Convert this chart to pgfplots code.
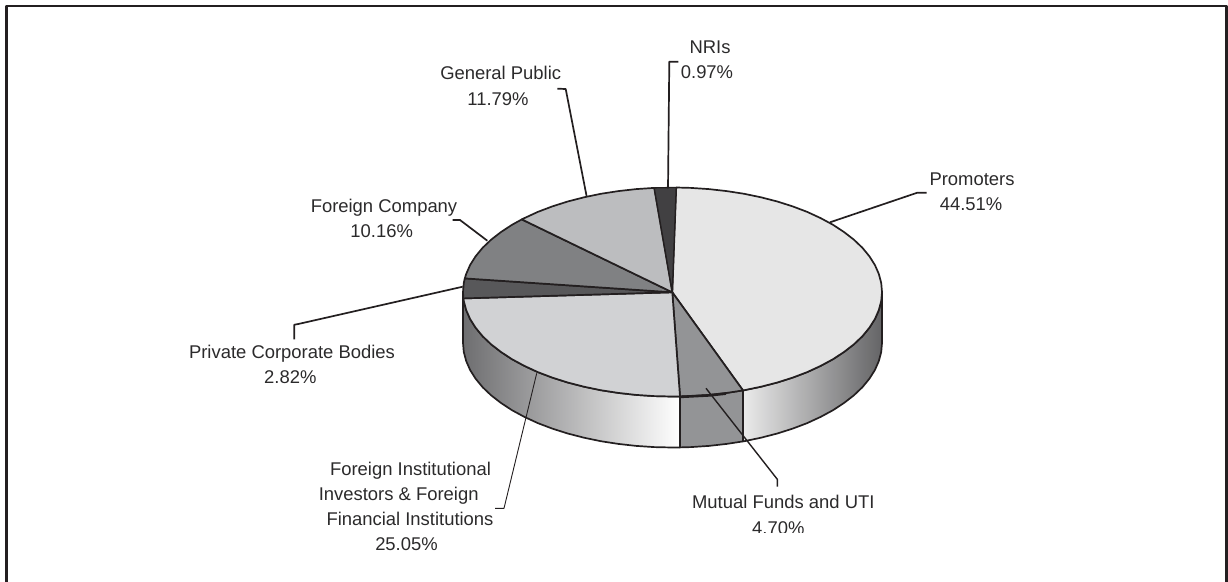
\documentclass[border=0pt]{standalone}
\usepackage{pgfplots}
\pgfplotsset{compat=1.18}
\usepackage{fontspec}
\setmainfont{Liberation Sans}
\definecolor{ink}{HTML}{231F20}
\definecolor{txt}{HTML}{2B2A2B}
\definecolor{cProm}{HTML}{E6E6E6}
\definecolor{cMut}{HTML}{939496}
\definecolor{cFII}{HTML}{D1D2D4}
\definecolor{cPriv}{HTML}{58585A}
\definecolor{cFor}{HTML}{808183}
\definecolor{cGen}{HTML}{BCBDBF}
\definecolor{cNRI}{HTML}{414042}
\definecolor{sideL}{HTML}{6E6E70}
\definecolor{sideR}{HTML}{646466}
\newcommand\lab[3]{\node[anchor=base,text=txt,inner sep=0pt] at (axis cs:#1,#2){#3};}
\begin{document}
\begin{tikzpicture}
\useasboundingbox (0,0) rectangle (1228bp,582bp);
\begin{axis}[
  at={(0,0)},anchor=south west,
  scale only axis,width=1228bp,height=582bp,
  xmin=0,xmax=1228,ymin=0,ymax=582,y dir=reverse,
  axis lines=none,clip=false,
  every axis plot/.append style={no markers,line join=round,line cap=butt},
  font=\fontsize{18.5}{24}\selectfont,
]
% frame (open at the bottom)
\addplot[draw=ink,line width=2.6bp] coordinates {(6.3,582)(6.3,6)(1226.5,6)(1226.5,582)};

% side walls
\addplot[draw=ink,line width=1.7bp,left color=white!92!black,right color=sideR] coordinates {
(882,292)(881.2,301.1)(878.8,310.1)(874.9,319)(869.4,327.7)(862.4,336.2)(853.9,344.3)(844.1,351.9)(833,359.2)(820.6,365.9)(807.2,372.1)(792.7,377.6)(777.3,382.5)(761,386.7)(744.2,390.2)(743,390.4)
(743,441.4)(744.2,441.2)(761,437.7)(777.3,433.5)(792.7,428.6)(807.2,423.1)(820.6,416.9)(833,410.2)(844.1,402.9)(853.9,395.3)(862.4,387.2)(869.4,378.7)(874.9,370)(878.8,361.1)(881.2,352.1)(882,343)(882,292)};
\addplot[draw=ink,line width=1.7bp,fill=cMut] coordinates {
(743,390.4)(726.7,392.9)(708.9,394.9)(690.8,396.1)(680,396.4)(680,447.4)(690.8,447.1)(708.9,445.9)(726.7,443.9)(743,441.4)(743,390.4)};
\addplot[draw=ink,line width=1.7bp,left color=sideL,right color=white] coordinates {
(680,396.4)(672.5,396.5)(654.2,396.1)(636.1,394.9)(618.3,392.9)(600.8,390.2)(584,386.7)(567.7,382.5)(552.3,377.6)(537.8,372.1)(524.4,365.9)(512,359.2)(500.9,351.9)(491.1,344.3)(482.6,336.2)(475.6,327.7)(470.1,319)(466.2,310.1)(463.8,301.1)(463,292)
(463,343)(463.8,352.1)(466.2,361.1)(470.1,370)(475.6,378.7)(482.6,387.2)(491.1,395.3)(500.9,402.9)(512,410.2)(524.4,416.9)(537.8,423.1)(552.3,428.6)(567.7,433.5)(584,437.7)(600.8,441.2)(618.3,443.9)(636.1,445.9)(654.2,447.1)(672.5,447.5)(680,447.4)(680,396.4)};

% top slices
\addplot[draw=ink,line width=1.7bp,fill=cProm] coordinates {
(672.3,292.3)(676.2,187.5)(690.8,187.9)(708.9,189.1)(726.7,191.1)(744.2,193.8)(761,197.3)(777.3,201.5)(792.7,206.4)(807.2,211.9)(820.6,218.1)(833,224.8)(844.1,232.1)(853.9,239.7)(862.4,247.8)(869.4,256.3)(874.9,265)(878.8,273.9)(881.2,282.9)(882,292)(881.2,301.1)(878.8,310.1)(874.9,319)(869.4,327.7)(862.4,336.2)(853.9,344.3)(844.1,351.9)(833,359.2)(820.6,365.9)(807.2,372.1)(792.7,377.6)(777.3,382.5)(761,386.7)(744.2,390.2)(743,390.4)(672.3,292.3)};
\addplot[draw=ink,line width=1.7bp,fill=cMut] coordinates {
(672.3,292.3)(743,390.4)(726.7,392.9)(708.9,394.9)(690.8,396.1)(680,396.4)(672.3,292.3)};
\addplot[draw=ink,line width=1.7bp,fill=cFII] coordinates {
(672.3,292.3)(680,396.4)(672.5,396.5)(654.2,396.1)(636.1,394.9)(618.3,392.9)(600.8,390.2)(584,386.7)(567.7,382.5)(552.3,377.6)(537.8,372.1)(524.4,365.9)(512,359.2)(500.9,351.9)(491.1,344.3)(482.6,336.2)(475.6,327.7)(470.1,319)(466.2,310.1)(463.8,301.1)(463.4,298.4)(672.3,292.3)};
\addplot[draw=ink,line width=1.7bp,fill=cPriv] coordinates {
(672.3,292.3)(463.4,298.4)(463,292)(463.8,282.9)(464.8,278.4)(672.3,292.3)};
\addplot[draw=ink,line width=1.7bp,fill=cFor] coordinates {
(672.3,292.3)(464.8,278.4)(466.2,273.9)(470.1,265)(475.6,256.3)(482.6,247.8)(491.1,239.7)(500.9,232.1)(512,224.8)(521.8,219.4)(672.3,292.3)};
\addplot[draw=ink,line width=1.7bp,fill=cGen] coordinates {
(672.3,292.3)(521.8,219.4)(524.4,218.1)(537.8,211.9)(552.3,206.4)(567.7,201.5)(584,197.3)(600.8,193.8)(618.3,191.1)(636.1,189.1)(654.2,187.9)(672.3,292.3)};
\addplot[draw=ink,line width=1.3bp,fill=cNRI] coordinates {
(672.3,292.3)(654.2,187.9)(672.5,187.5)(676.2,187.5)(672.3,292.3)};
\addplot[draw=ink,line width=2.6bp] coordinates {(680,396.9)(708.9,395.4)(726,393.6)};

% leader lines
\addplot[draw=ink,line width=1.7bp] coordinates {(678.3,61.7)(669.3,61.7)(668,188.3)};
\addplot[draw=ink,line width=1.7bp] coordinates {(557.3,88.7)(565.7,89)(586.7,196.7)};
\addplot[draw=ink,line width=1.7bp] coordinates {(452.7,220)(460,220)(487.3,240.7)};
\addplot[draw=ink,line width=1.7bp] coordinates {(462.7,286.7)(298.3,324)(294.3,324.7)(294.3,339.3)};
\addplot[draw=ink,line width=0.9bp] coordinates {(495,508.3)(504,508.3)(536.7,373.3)};
\addplot[draw=ink,line width=1.7bp] coordinates {(926.7,192.7)(917.3,192.7)(830,222.3)};
\addplot[draw=ink,line width=1.4bp] coordinates {(706,388.3)(777.3,479.3)(777.3,486.7)};

% labels
\lab{710}{53.2}{NRIs}
\lab{707}{78.5}{0.97\%}
\lab{500.7}{79.5}{General Public}
\lab{498}{105.5}{11.79\%}
\lab{384}{212.5}{Foreign Company}
\lab{381.7}{237.2}{10.16\%}
\lab{292}{358.2}{Private Corporate Bodies}
\lab{290.3}{383.2}{2.82\%}
\lab{410.5}{475.5}{Foreign Institutional}
\lab{398.7}{500.5}{Investors \& Foreign}
\lab{410}{525.5}{Financial Institutions}
\lab{406.5}{550.5}{25.05\%}
\lab{972}{185.5}{Promoters}
\lab{971}{210.5}{44.51\%}
\lab{783.3}{508.2}{Mutual Funds and UTI}
\begin{scope}
\clip (axis cs:740,510) rectangle (axis cs:820,532.5);
\lab{778.3}{534.7}{4.70\%}
\end{scope}
\end{axis}
\end{tikzpicture}
\end{document}
